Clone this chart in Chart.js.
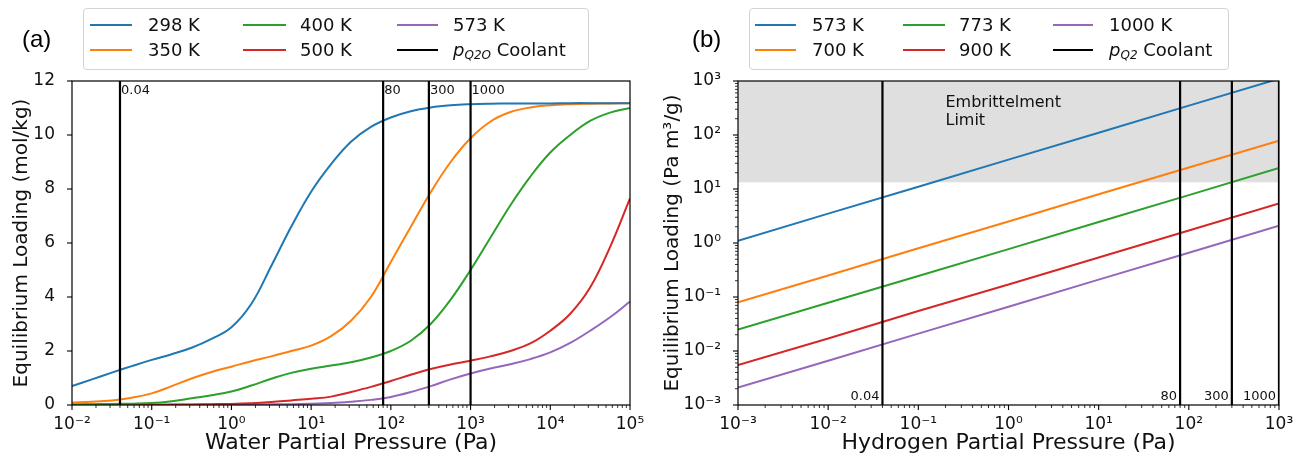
<!DOCTYPE html>
<html><head><meta charset="utf-8">
<script src="https://cdn.jsdelivr.net/npm/chart.js@4"></script>
<style>
body{margin:0;background:#fff;width:1314px;height:459px;overflow:hidden;position:relative;font-family:"DejaVu Sans",sans-serif;}
canvas{position:absolute;top:0;}
.legend{position:absolute;top:8px;height:62px;border:1px solid #d3d3d3;border-radius:4px;background:#fff;box-sizing:border-box;}
.item{position:absolute;font-size:18px;line-height:22px;height:22px;color:#111;white-space:nowrap;}
.swatch{position:absolute;height:2px;}
.panel{position:absolute;top:24px;font-family:"Liberation Sans",Arial,sans-serif;font-size:24px;line-height:30px;color:#000;}
</style></head>
<body>
<canvas id="c1" width="657" height="459" style="left:0"></canvas>
<canvas id="c2" width="657" height="459" style="left:657px"></canvas>
<div class="panel" style="left:22px">(a)</div>
<div class="panel" style="left:692px">(b)</div>
<div id="leg1" class="legend" style="left:83px;width:506px"></div>
<div id="leg2" class="legend" style="left:749px;width:480px"></div>
<script>
// ---------- DATA (a): water adsorption ----------
const waterP = [0.01,0.0178,0.0316,0.0562,0.1,0.178,0.316,0.562,1,1.78,3.16,5.62,10,17.8,31.6,56.2,100,178,316,562,1000,1780,3160,5620,10000,17800,31600,56200,100000];
const load298K = [0.70,0.95,1.20,1.44,1.67,1.88,2.12,2.45,2.88,3.75,5.15,6.60,7.90,8.92,9.75,10.30,10.65,10.88,11.02,11.10,11.14,11.16,11.17,11.17,11.17,11.18,11.18,11.18,11.18];
const load350K = [0.09,0.12,0.17,0.27,0.43,0.70,0.98,1.22,1.42,1.62,1.80,2.00,2.20,2.55,3.12,4.00,5.30,6.60,7.88,9.00,9.88,10.50,10.85,11.02,11.10,11.14,11.16,11.17,11.18];
const load400K = [0.02,0.03,0.04,0.05,0.07,0.14,0.25,0.36,0.50,0.72,0.97,1.19,1.34,1.46,1.58,1.76,2.00,2.38,3.00,3.90,5.00,6.20,7.40,8.46,9.35,10.00,10.52,10.83,11.00];
const load500K = [0.005,0.006,0.007,0.009,0.012,0.016,0.022,0.03,0.04,0.065,0.11,0.17,0.23,0.31,0.48,0.67,0.89,1.12,1.33,1.50,1.64,1.80,2.00,2.28,2.75,3.38,4.35,5.85,7.65];
const load573K = [0.002,0.002,0.003,0.004,0.005,0.007,0.009,0.012,0.016,0.02,0.025,0.032,0.05,0.07,0.12,0.19,0.30,0.48,0.70,0.95,1.17,1.35,1.51,1.70,1.95,2.30,2.75,3.25,3.83];
const waterSeriesNames = ['298 K','350 K','400 K','500 K','573 K'];
const coolantP = [0.04, 80, 300, 1000];
const coolantLabels = ['0.04','80','300','1000'];
const waterTicks = [1e-2,1e-1,1,10,100,1000,1e4,1e5];
const waterTickLabels = ['10⁻²','10⁻¹','10⁰','10¹','10²','10³','10⁴','10⁵'];
const loadTicks = [0,2,4,6,8,10,12];
const loadTickLabels = ['0','2','4','6','8','10','12'];

// ---------- DATA (b): hydrogen ----------
const h2P = [0.001,0.01,0.1,1,10,100,1000];
const hl573K = [1.1,3.5,11,35,110,350,1100];
const hl700K = [0.08,0.25,0.8,2.5,8,25,78];
const hl773K = [0.025,0.078,0.245,0.77,2.45,7.7,24.5];
const hl900K = [0.0055,0.017,0.055,0.17,0.54,1.7,5.4];
const hl1000K = [0.0021,0.0066,0.021,0.066,0.21,0.66,2.1];
const h2SeriesNames = ['573 K','700 K','773 K','900 K','1000 K'];
const h2Ticks = [1e-3,1e-2,1e-1,1,10,100,1000];
const h2TickLabels = ['10⁻³','10⁻²','10⁻¹','10⁰','10¹','10²','10³'];
const hlTicks = [1e-3,1e-2,1e-1,1,10,100,1000];
const hlTickLabels = ['10⁻³','10⁻²','10⁻¹','10⁰','10¹','10²','10³'];
const embrittlementLimit = 13.3;

// ---------- styles ----------
const colors = ['#1f77b4','#ff7f0e','#2ca02c','#d62728','#9467bd'];
const FONT = '"DejaVu Sans", sans-serif';
const TXT = '#111';

function logTicks(majors){
  const out=[];
  majors.forEach((m,i)=>{
    out.push({value:m, major:true});
    if(i<majors.length-1){ for(let k=2;k<=9;k++) out.push({value:Number((m*k).toPrecision(12)), major:false}); }
  });
  return out;
}
function labelFor(list, labels){ return v => { const i=list.indexOf(v); return i>=0?labels[i]:''; }; }

const frame = {
  id:'frame',
  beforeDatasetsDraw(chart, args, opts){
    if(opts.span){
      const {ctx, chartArea:a} = chart; const y=chart.scales.y;
      const y1 = y.getPixelForValue(opts.span[0]), y2 = y.getPixelForValue(opts.span[1]);
      ctx.save(); ctx.fillStyle='rgba(128,128,128,0.25)';
      ctx.fillRect(a.left, Math.min(y1,y2), a.right-a.left, Math.abs(y2-y1)); ctx.restore();
    }
  },
  afterDatasetsDraw(chart, args, opts){
    const {ctx, chartArea:a} = chart; const xs=chart.scales.x, ys=chart.scales.y;
    ctx.save();
    ctx.fillStyle='#111'; ctx.font='13px '+FONT; ctx.textBaseline='middle';
    opts.vlabels.forEach((t,i)=>{
      const px = xs.getPixelForValue(opts.vvalues[i]);
      if(opts.vpos==='top'){ ctx.textAlign='left'; ctx.fillText(t, px+1, a.top+10); }
      else { ctx.textAlign='right'; ctx.fillText(t, px-3, a.bottom-8); }
    });
    if(opts.note){
      ctx.font='16px '+FONT; ctx.textAlign='left'; ctx.textBaseline='top';
      const px = xs.getPixelForValue(opts.note.x), py = ys.getPixelForValue(opts.note.y);
      opts.note.lines.forEach((l,i)=>ctx.fillText(l, px, py+i*18));
    }
    ctx.strokeStyle='#000'; ctx.lineWidth=1.2;
    ctx.strokeRect(a.left, a.top, a.right-a.left, a.bottom-a.top);
    xs.ticks.forEach(t=>{ const p=xs.getPixelForValue(t.value); if(p<a.left-0.5||p>a.right+0.5) return;
      const L=t.major?5:3; ctx.lineWidth=t.major?1.1:0.8; ctx.beginPath(); ctx.moveTo(p,a.bottom); ctx.lineTo(p,a.bottom+L); ctx.stroke(); });
    ys.ticks.forEach(t=>{ const p=ys.getPixelForValue(t.value); if(p<a.top-0.5||p>a.bottom+0.5) return;
      const L=(t.major===false)?3:5; ctx.lineWidth=(t.major===false)?0.8:1.1; ctx.beginPath(); ctx.moveTo(a.left,p); ctx.lineTo(a.left-L,p); ctx.stroke(); });
    ctx.restore();
  }
};

function makeChart(id, cfg){
  const datasets = cfg.series.map((vals,i)=>({
    label: cfg.names[i],
    data: cfg.xs.map((x,j)=>({x, y: vals[j]})),
    borderColor: colors[i], borderWidth: 2, pointRadius: 0, fill: false,
    tension: cfg.smooth?0.4:0, order: 2
  }));
  cfg.vlines.forEach(p=>datasets.push({
    label:'coolant', data:[{x:p,y:cfg.ymin},{x:p,y:cfg.ymax}],
    borderColor:'#000', borderWidth:2.2, pointRadius:0, fill:false, order:1
  }));
  return new Chart(document.getElementById(id), {
    type:'line',
    data:{datasets},
    options:{
      responsive:false, animation:false, devicePixelRatio:1,
      layout:{padding:{left:0, top:81, right:cfg.padRight, bottom:0}},
      plugins:{legend:{display:false}, tooltip:{enabled:false}, frame:cfg.frame},
      scales:{
        x:{type:'logarithmic', min:cfg.xmin, max:cfg.xmax,
           afterFit(s){ s.height=54; },
           afterBuildTicks(s){ s.ticks = logTicks(cfg.xticks); },
           ticks:{autoSkip:false, maxRotation:0, padding:1, color:TXT, font:{family:FONT,size:17}, callback: labelFor(cfg.xticks, cfg.xlabels)},
           grid:{display:false}, border:{display:false},
           title:{display:true, text:cfg.xtitle, color:TXT, font:{family:FONT,size:22}, padding:{top:0,bottom:3}}},
        y:{type:cfg.ylog?'logarithmic':'linear', min:cfg.ymin, max:cfg.ymax,
           afterFit(s){ s.width=cfg.yWidth; },
           afterBuildTicks(s){ s.ticks = cfg.ylog ? logTicks(cfg.yticks) : cfg.yticks.map(v=>({value:v, major:true})); },
           ticks:{autoSkip:false, padding:cfg.yPad, color:TXT, font:{family:FONT,size:17}, callback: labelFor(cfg.yticks, cfg.ylabels)},
           grid:{display:false}, border:{display:false},
           title:{display:true, text:cfg.ytitle, color:TXT, font:{family:FONT,size:20}, padding:{top:cfg.yTitlePad,bottom:0}}}
      }
    },
    plugins:[frame]
  });
}

makeChart('c1', {
  xs: waterP, series:[load298K,load350K,load400K,load500K,load573K], names: waterSeriesNames, smooth:true,
  vlines: coolantP, xmin:1e-2, xmax:1e5, ymin:0, ymax:12, ylog:false,
  xticks: waterTicks, xlabels: waterTickLabels, yticks: loadTicks, ylabels: loadTickLabels,
  xtitle:'Water Partial Pressure (Pa)', ytitle:'Equilibrium Loading (mol/kg)',
  padRight:27, yWidth:72, yPad:9, yTitlePad:10,
  frame:{vvalues: coolantP, vlabels: coolantLabels, vpos:'top'}
});
makeChart('c2', {
  xs: h2P, series:[hl573K,hl700K,hl773K,hl900K,hl1000K], names: h2SeriesNames, smooth:false,
  vlines: coolantP, xmin:1e-3, xmax:1e3, ymin:1e-3, ymax:1e3, ylog:true,
  xticks: h2Ticks, xlabels: h2TickLabels, yticks: hlTicks, ylabels: hlTickLabels,
  xtitle:'Hydrogen Partial Pressure (Pa)', ytitle:'Equilibrium Loading (Pa m³/g)',
  padRight:35, yWidth:81, yPad:9, yTitlePad:4,
  frame:{vvalues: coolantP, vlabels: coolantLabels, vpos:'bottom', span:[embrittlementLimit, 1000],
         note:{x:0.2, y:550, lines:['Embrittelment','Limit']}}
});

// ---------- legends (HTML) ----------
function buildLegend(id, names, coolantHTML, cols){
  const el = document.getElementById(id);
  const entries = names.map((n,i)=>({html:n, color:colors[i]})).concat([{html:coolantHTML, color:'#000'}]);
  entries.forEach((e,i)=>{
    const col = Math.floor(i/2), row = i%2;
    const c = cols[col];
    const cy = row===0 ? 16 : 41;
    const sw = document.createElement('div'); sw.className='swatch';
    sw.style.cssText = `left:${c.line0}px;width:${c.line1-c.line0}px;top:${cy-1}px;background:${e.color}`;
    const tx = document.createElement('div'); tx.className='item';
    tx.style.cssText = `left:${c.text}px;top:${cy-11}px`;
    tx.innerHTML = e.html;
    el.appendChild(sw); el.appendChild(tx);
  });
}
buildLegend('leg1', waterSeriesNames, '<i>p</i><sub style="font-size:12px;font-style:italic;vertical-align:-3px">Q2O</sub> Coolant',
  [{line0:6,line1:48,text:64},{line0:159,line1:202,text:216},{line0:313,line1:354,text:369}]);
buildLegend('leg2', h2SeriesNames, '<i>p</i><sub style="font-size:12px;font-style:italic;vertical-align:-3px">Q2</sub> Coolant',
  [{line0:5,line1:46,text:62},{line0:153,line1:195,text:209},{line0:303,line1:343,text:359}]);
</script>
</body></html>
